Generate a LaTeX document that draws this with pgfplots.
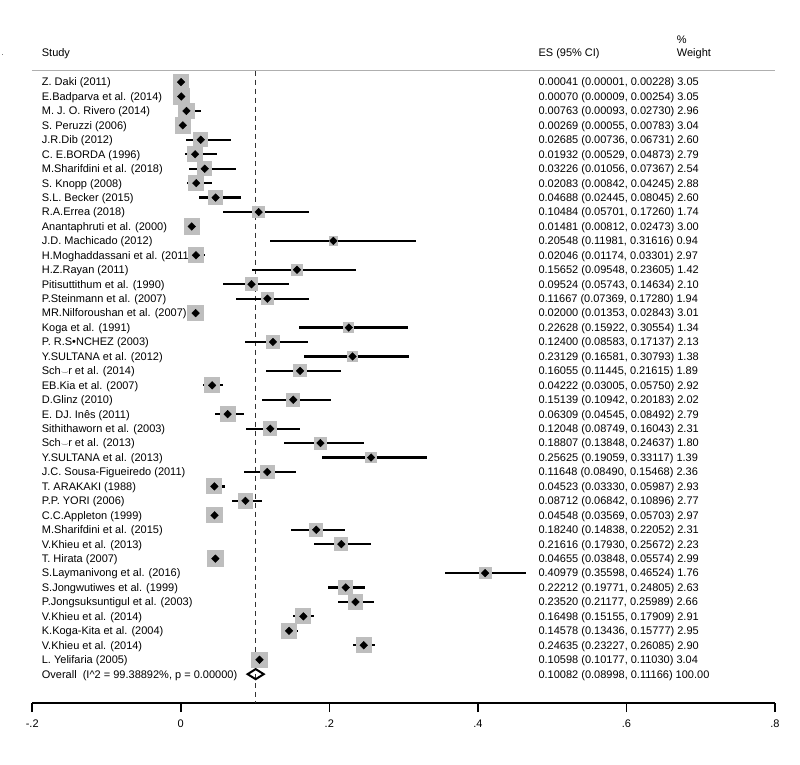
\documentclass[border=0pt]{standalone}
\usepackage{fontspec}
\setmainfont{Liberation Sans}
\usepackage{pgfplots}
\pgfplotsset{compat=1.18}
\usepackage{pgfplotstable}
\definecolor{sqgray}{RGB}{190,190,190}
\definecolor{hdrgray}{RGB}{175,175,175}
\definecolor{dashgray}{RGB}{50,50,50}
\tikzset{lab/.style={font=\fontsize{11bp}{13bp}\selectfont, inner sep=0pt, anchor=base west, yshift=-3.9bp}}

\pgfplotstableread{
row es lo hi w
1 0.00041 0.00001 0.00228 3.05
2 0.00070 0.00009 0.00254 3.05
3 0.00763 0.00093 0.02730 2.96
4 0.00269 0.00055 0.00783 3.04
5 0.02685 0.00736 0.06731 2.60
6 0.01932 0.00529 0.04873 2.79
7 0.03226 0.01056 0.07367 2.54
8 0.02083 0.00842 0.04245 2.88
9 0.04688 0.02445 0.08045 2.60
10 0.10484 0.05701 0.17260 1.74
11 0.01481 0.00812 0.02473 3.00
12 0.20548 0.11981 0.31616 0.94
13 0.02046 0.01174 0.03301 2.97
14 0.15652 0.09548 0.23605 1.42
15 0.09524 0.05743 0.14634 2.10
16 0.11667 0.07369 0.17280 1.94
17 0.02000 0.01353 0.02843 3.01
18 0.22628 0.15922 0.30554 1.34
19 0.12400 0.08583 0.17137 2.13
20 0.23129 0.16581 0.30793 1.38
21 0.16055 0.11445 0.21615 1.89
22 0.04222 0.03005 0.05750 2.92
23 0.15139 0.10942 0.20183 2.02
24 0.06309 0.04545 0.08492 2.79
25 0.12048 0.08749 0.16043 2.31
26 0.18807 0.13848 0.24637 1.80
27 0.25625 0.19059 0.33117 1.39
28 0.11648 0.08490 0.15468 2.36
29 0.04523 0.03330 0.05987 2.93
30 0.08712 0.06842 0.10896 2.77
31 0.04548 0.03569 0.05703 2.97
32 0.18240 0.14838 0.22052 2.31
33 0.21616 0.17930 0.25672 2.23
34 0.04655 0.03848 0.05574 2.99
35 0.40979 0.35598 0.46524 1.76
36 0.22212 0.19771 0.24805 2.63
37 0.23520 0.21177 0.25989 2.66
38 0.16498 0.15155 0.17909 2.91
39 0.14578 0.13436 0.15777 2.95
40 0.24635 0.23227 0.26085 2.90
41 0.10598 0.10177 0.11030 3.04
}\data

\newcommand{\schr}{Sch\kern0.3pt\raisebox{0.3pt}{\scalebox{0.7}{$\smile$}}\kern-0.5pt r}
\newcommand{\rowtxt}[3]{%
  \node[lab] at (axis cs:-0.1873,-#1) {#2};
  \node[lab] at (axis cs:0.4814,-#1) {#3};}

\begin{document}
\begin{tikzpicture}
\begin{axis}[
  scale only axis, width=742.7bp, height=703bp,
  xmin=-0.2, xmax=0.8, ymin=-44.0, ymax=4.68,
  axis x line*=bottom, axis y line=none,
  xtick pos=left,
  x axis line style={line width=1.6bp, -},
  xtick={-0.2,0,0.2,0.4,0.6,0.8},
  xticklabels={-.2,0,.2,.4,.6,.8},
  tick align=outside, major tick length=9bp,
  every tick/.style={line width=1.6bp, black},
  xticklabel style={font=\fontsize{11bp}{13bp}\selectfont, inner sep=0pt, anchor=north, yshift=-8bp},
  clip=false,
]
% invisible bounding box for full image area
\addplot[draw=none, mark=none, forget plot] coordinates {(-0.2434,4.68) (0.8337,-48.23)};
% header rule
\addplot[hdrgray, line width=1.3bp, mark=none] coordinates {(-0.2007,-0.217) (0.8003,-0.217)};
% overall line (dashed)
\addplot[dashgray, line width=1.6bp, dash pattern=on 5bp off 4bp, mark=none] coordinates {(0.10082,-0.217) (0.10082,-44.0)};
% weight boxes
\addplot[scatter, only marks, mark=square*, sqgray,
  mark options={draw=sqgray, fill=sqgray, line width=0pt},
  scatter/use mapped color={draw=sqgray, fill=sqgray},
  visualization depends on={7.75*sqrt(\thisrow{w}/3.05) \as \msz},
  scatter/@pre marker code/.append style={/tikz/mark size=\msz}]
  table[x=es, y expr=-\thisrow{row}] {\data};
% confidence intervals and point estimates
\addplot[only marks, mark=square*, mark size=2.7bp, black,
  mark options={draw=black, fill=black, line width=0.4bp, solid, rotate=45},
  error bars/.cd, x dir=both, x explicit,
  error bar style={line width=2.2bp, black, solid}, error mark=none]
  table[x=es, y expr=-\thisrow{row},
        x error plus expr=\thisrow{hi}-\thisrow{es},
        x error minus expr=\thisrow{es}-\thisrow{lo}] {\data};
% overall diamond
\addplot[black, line width=2bp, mark=none, line join=miter] coordinates {
  (0.08998,-42) (0.10082,-41.65) (0.11166,-42) (0.10082,-42.35)} -- cycle;

% header texts
\node[lab] at (axis cs:-0.1873,1.008) {Study};
\node[lab] at (axis cs:0.4814,1.008) {ES (95\% CI)};
\node[lab] at (axis cs:0.6677,1.008) {Weight};
\node[lab] at (axis cs:0.6677,1.91) {\%};
\node[lab, font=\fontsize{7bp}{8bp}\selectfont] at (axis cs:-0.2415,1.08) {.};

\rowtxt{1}{Z. Daki (2011)}{0.00041 (0.00001, 0.00228) 3.05}
\rowtxt{2}{E.Badparva et al. (2014)}{0.00070 (0.00009, 0.00254) 3.05}
\rowtxt{3}{M. J. O. Rivero (2014)}{0.00763 (0.00093, 0.02730) 2.96}
\rowtxt{4}{S. Peruzzi (2006)}{0.00269 (0.00055, 0.00783) 3.04}
\rowtxt{5}{J.R.Dib (2012)}{0.02685 (0.00736, 0.06731) 2.60}
\rowtxt{6}{C. E.BORDA (1996)}{0.01932 (0.00529, 0.04873) 2.79}
\rowtxt{7}{M.Sharifdini et al. (2018)}{0.03226 (0.01056, 0.07367) 2.54}
\rowtxt{8}{S. Knopp (2008)}{0.02083 (0.00842, 0.04245) 2.88}
\rowtxt{9}{S.L. Becker (2015)}{0.04688 (0.02445, 0.08045) 2.60}
\rowtxt{10}{R.A.Errea (2018)}{0.10484 (0.05701, 0.17260) 1.74}
\rowtxt{11}{Anantaphruti et al. (2000)}{0.01481 (0.00812, 0.02473) 3.00}
\rowtxt{12}{J.D. Machicado (2012)}{0.20548 (0.11981, 0.31616) 0.94}
\rowtxt{13}{H.Moghaddassani et al. (2011)}{0.02046 (0.01174, 0.03301) 2.97}
\rowtxt{14}{H.Z.Rayan (2011)}{0.15652 (0.09548, 0.23605) 1.42}
\rowtxt{15}{Pitisuttithum et al. (1990)}{0.09524 (0.05743, 0.14634) 2.10}
\rowtxt{16}{P.Steinmann et al. (2007)}{0.11667 (0.07369, 0.17280) 1.94}
\rowtxt{17}{MR.Nilforoushan et al. (2007)}{0.02000 (0.01353, 0.02843) 3.01}
\rowtxt{18}{Koga et al. (1991)}{0.22628 (0.15922, 0.30554) 1.34}
\rowtxt{19}{P. R.S•NCHEZ (2003)}{0.12400 (0.08583, 0.17137) 2.13}
\rowtxt{20}{Y.SULTANA et al. (2012)}{0.23129 (0.16581, 0.30793) 1.38}
\rowtxt{21}{\schr\ et al. (2014)}{0.16055 (0.11445, 0.21615) 1.89}
\rowtxt{22}{EB.Kia et al. (2007)}{0.04222 (0.03005, 0.05750) 2.92}
\rowtxt{23}{D.Glinz (2010)}{0.15139 (0.10942, 0.20183) 2.02}
\rowtxt{24}{E. DJ. Inês (2011)}{0.06309 (0.04545, 0.08492) 2.79}
\rowtxt{25}{Sithithaworn et al. (2003)}{0.12048 (0.08749, 0.16043) 2.31}
\rowtxt{26}{\schr\ et al. (2013)}{0.18807 (0.13848, 0.24637) 1.80}
\rowtxt{27}{Y.SULTANA et al. (2013)}{0.25625 (0.19059, 0.33117) 1.39}
\rowtxt{28}{J.C. Sousa-Figueiredo (2011)}{0.11648 (0.08490, 0.15468) 2.36}
\rowtxt{29}{T. ARAKAKI (1988)}{0.04523 (0.03330, 0.05987) 2.93}
\rowtxt{30}{P.P. YORI (2006)}{0.08712 (0.06842, 0.10896) 2.77}
\rowtxt{31}{C.C.Appleton (1999)}{0.04548 (0.03569, 0.05703) 2.97}
\rowtxt{32}{M.Sharifdini et al. (2015)}{0.18240 (0.14838, 0.22052) 2.31}
\rowtxt{33}{V.Khieu et al. (2013)}{0.21616 (0.17930, 0.25672) 2.23}
\rowtxt{34}{T. Hirata (2007)}{0.04655 (0.03848, 0.05574) 2.99}
\rowtxt{35}{S.Laymanivong et al. (2016)}{0.40979 (0.35598, 0.46524) 1.76}
\rowtxt{36}{S.Jongwutiwes et al. (1999)}{0.22212 (0.19771, 0.24805) 2.63}
\rowtxt{37}{P.Jongsuksuntigul et al. (2003)}{0.23520 (0.21177, 0.25989) 2.66}
\rowtxt{38}{V.Khieu et al. (2014)}{0.16498 (0.15155, 0.17909) 2.91}
\rowtxt{39}{K.Koga-Kita et al. (2004)}{0.14578 (0.13436, 0.15777) 2.95}
\rowtxt{40}{V.Khieu et al. (2014)}{0.24635 (0.23227, 0.26085) 2.90}
\rowtxt{41}{L. Yelifaria (2005)}{0.10598 (0.10177, 0.11030) 3.04}
\rowtxt{42}{Overall\ \ (I\textasciicircum 2 = 99.38892\%, p = 0.00000)}{0.10082 (0.08998, 0.11166) 100.00}
\end{axis}
\end{tikzpicture}
\end{document}
